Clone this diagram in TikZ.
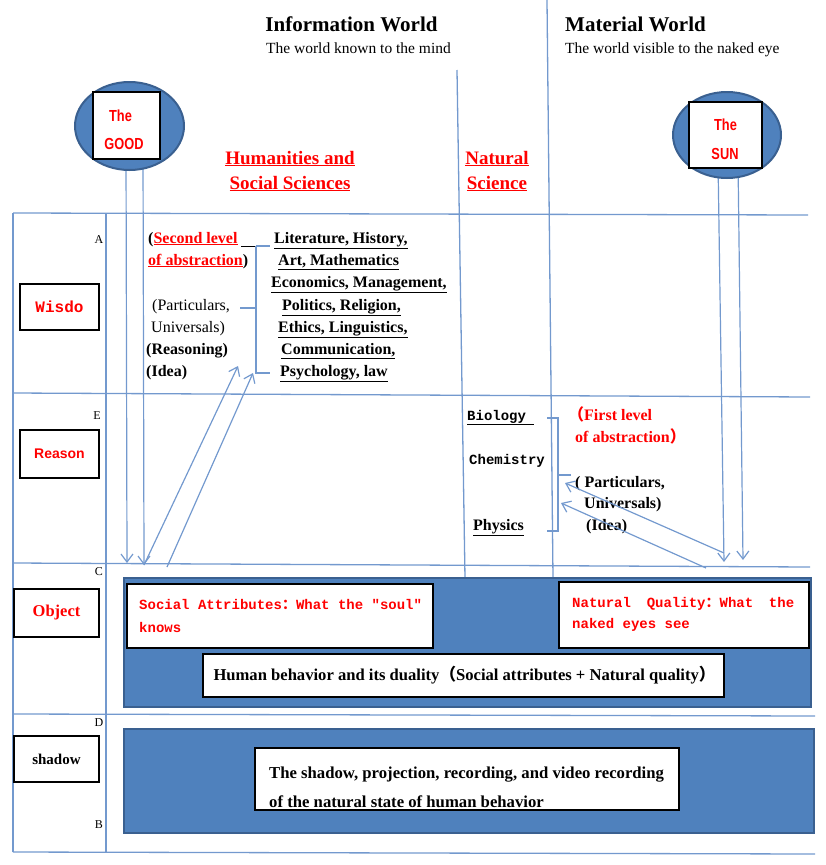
\documentclass[tikz,border=0pt]{standalone}
\usepackage{fontspec}
\setmainfont{Liberation Serif}
\newfontfamily\monof{Liberation Mono}
\newfontfamily\narrowf[FakeStretch=0.8]{Liberation Sans}
\newfontfamily\sansf{Liberation Sans}
\newfontfamily\cjkf{Noto Sans CJK SC}
\usetikzlibrary{arrows.meta,shapes.geometric}
\newcommand\fsz[2]{\fontsize{#1}{#2}\selectfont}
\definecolor{lineblue}{HTML}{7399CE}
\definecolor{panelblue}{HTML}{4F81BD}
\definecolor{paneledge}{HTML}{3A6090}
\definecolor{redt}{HTML}{FF0000}
\tikzset{
  grid/.style={draw=lineblue,line width=1.3pt},
  ray/.style={draw=lineblue,line width=1.2pt,-{Straight Barb[length=8pt,width=12pt,line width=1.2pt]}},
  panel/.style={draw=paneledge,line width=2.2pt,fill=panelblue,inner sep=0pt},
  wbox/.style={draw=black,line width=1.3pt,fill=white,inner sep=0pt},
  orb/.style={ellipse,draw=paneledge,line width=2pt,fill=panelblue,inner sep=0pt},
  lw/.style={inner sep=0pt,anchor=base west},
  tc/.style={inner sep=0pt,anchor=base},
  redlab/.style={text=redt},
  listf/.style={lw,font=\bfseries\fsz{16}{22}},
}
\begin{document}
\begin{tikzpicture}[x=1pt,y=-1pt]
\useasboundingbox (0,0) rectangle (826,865);

% ---- grid lines
\draw[grid] (13,213) -- (808,215);
\draw[grid] (13,393) -- (810,397);
\draw[grid] (13,563) -- (810,567);
\draw[grid] (13,714) -- (815,716);
\draw[grid] (13,852) -- (815,854);
\draw[grid] (13,213) -- (13,852);
\draw[grid] (106,213) -- (106,852);
\draw[grid] (457,70) -- (465,578);
\draw[grid] (547,0) -- (553,578);

% ---- headings
\node[tc,font=\bfseries\fsz{21}{25}] (infow) at (351.5,31) {Information World};
\node[tc,font=\fsz{15.5}{18}] (infos) at (358.5,53) {The world known to the mind};
\node[lw,font=\bfseries\fsz{21}{25}] (matw) at (565,31) {Material World};
\node[lw,font=\fsz{15.5}{18}] (mats) at (565,53) {The world visible to the naked eye};

\node[align=center,inner sep=0pt,font=\bfseries\fsz{19}{25},redlab] (hum) at (290,171)
  {\underline{Humanities and}\\\underline{Social Sciences}};
\node[align=center,inner sep=0pt,font=\bfseries\fsz{19}{25},redlab] (nat) at (497,171)
  {\underline{Natural}\\\underline{Science}};

% ---- rays
\coordinate (g1s) at (126,150); \coordinate (g1e) at (127,563);
\coordinate (g2s) at (143,150); \coordinate (g2e) at (144,565);
\coordinate (s1s) at (718,160); \coordinate (s1e) at (724,562);
\coordinate (s2s) at (738,160); \coordinate (s2e) at (743,560);
\draw[ray] (g1s) -- (g1e);
\draw[ray] (g2s) -- (g2e);
\draw[ray] (s1s) -- (s1e);
\draw[ray] (s2s) -- (s2e);

% ---- orbs
\node[orb,minimum width=109pt,minimum height=88pt] (goodorb) at (129.5,126) {};
\node[wbox,minimum width=67pt,minimum height=67pt] (goodbox) at (126.5,125.5) {};
\node[tc,font=\narrowf\bfseries\fsz{16}{18},redlab] (goodt1) at (120.5,121) {The};
\node[tc,font=\narrowf\bfseries\fsz{16}{18},redlab] (goodt2) at (124,149) {GOOD};

\node[orb,minimum width=108pt,minimum height=86pt] (sunorb) at (727,135) {};
\node[wbox,minimum width=73pt,minimum height=66pt] (sunbox) at (725.5,135) {};
\node[tc,font=\narrowf\bfseries\fsz{16}{18},redlab] (sunt1) at (725.5,130) {The};
\node[tc,font=\narrowf\bfseries\fsz{16}{18},redlab] (sunt2) at (725,159) {SUN};

% ---- row labels
\node[wbox,minimum width=79pt,minimum height=46pt,font=\monof\bfseries\fsz{16}{18},redlab] (wis) at (59.5,307) {Wisdo};
\node[wbox,minimum width=79pt,minimum height=48pt,font=\sansf\bfseries\fsz{14}{16},redlab] (rea) at (59.5,454) {Reason};
\node[wbox,minimum width=85pt,minimum height=48pt,font=\bfseries\fsz{16.5}{18},redlab] (obj) at (56.5,613) {Object};
\node[wbox,minimum width=85pt,minimum height=46pt,font=\bfseries\fsz{15}{18}] (sha) at (56.5,759) {shadow};

\node[tc,font=\fsz{12}{14}] (la) at (99,243) {A};
\node[tc,font=\fsz{12}{14}] (le) at (97,419) {E};
\node[tc,font=\fsz{12}{14}] (lc) at (99,575) {C};
\node[tc,font=\fsz{12}{14}] (ld) at (99,726) {D};
\node[tc,font=\fsz{12}{14}] (lb) at (99,828) {B};

% ---- humanities group
\node[lw,font=\bfseries\fsz{16}{22}] (sl1) at (148,243) {(\textcolor{redt}{\underline{Second level}}};
\node[lw,font=\bfseries\fsz{16}{22}] (sl2) at (148,265) {\textcolor{redt}{\underline{of abstraction}})};
\node[lw,font=\fsz{16}{22}] (hp1) at (152,310) {(Particulars,};
\node[lw,font=\fsz{16}{22}] (hp2) at (151,332) {Universals)};
\node[lw,font=\bfseries\fsz{16}{22}] (hp3) at (146,354) {(Reasoning)};
\node[lw,font=\bfseries\fsz{16}{22}] (hp4) at (146,376) {(Idea)};

\node[listf] (h1) at (274,243) {\underline{Literature, History,}};
\node[listf] (h2) at (278,265) {\underline{Art, Mathematics}};
\node[listf] (h3) at (271,287) {\underline{Economics, Management,}};
\node[listf] (h4) at (282,310) {\underline{Politics, Religion,}};
\node[listf] (h5) at (278,332) {\underline{Ethics, Linguistics,}};
\node[listf] (h6) at (281,354) {\underline{Communication,}};
\node[listf] (h7) at (280,376) {\underline{Psychology, law}};

\coordinate (hbt0) at (241,246);
\coordinate (hbt) at (256,246);
\coordinate (hbtr) at (270,246);
\coordinate (hbm) at (256,308);
\coordinate (hbml) at (240,308);
\coordinate (hbb) at (256,373);
\coordinate (hbbr) at (270,373);
\draw[line width=0.8pt] (hbt0) -- (hbt);
\draw[grid,line width=1.2pt] (hbt) -- (hbtr);
\draw[grid,line width=1.2pt] (hbt) -- (hbb) -- (hbbr);
\draw[grid,line width=1.2pt] (hbml) -- (hbm);

% reflected rays (humanities)
\coordinate (hr1) at (238,366);
\coordinate (hr2s) at (167,567);
\coordinate (hr2) at (253,373);
\draw[ray] (g2e) -- (hr1);
\draw[ray] (hr2s) -- (hr2);

% ---- natural science group
\node[lw,font=\monof\bfseries\fsz{14}{18}] (bio) at (467,420) {\underline{Biology\ }};
\node[lw,font=\monof\bfseries\fsz{14}{18}] (che) at (469,464) {Chemistry};
\node[lw,font=\bfseries\fsz{16}{18}] (phy) at (473,530) {\underline{Physics}};

\coordinate (nbt0) at (547,418); \coordinate (nbt) at (558,418);
\coordinate (nbb0) at (547,531); \coordinate (nbb) at (558,531);
\coordinate (nbm) at (558,475); \coordinate (nbmr) at (571,475);
\draw[grid,line width=1.2pt] (nbt0) -- (nbt) -- (nbb) -- (nbb0);
\draw[grid,line width=1.2pt] (nbm) -- (nbmr);

\node[lw,font=\bfseries\fsz{16}{18},redlab] (fl1) at (568,420) {{\cjkf （}First level};
\node[lw,font=\bfseries\fsz{16}{18},redlab] (fl2) at (575,442) {of abstraction{\cjkf ）}};
\node[lw,font=\bfseries\fsz{16}{18}] (np1) at (575,487) {( Particulars,};
\node[lw,font=\bfseries\fsz{16}{18}] (np2) at (584,508) {Universals)};
\node[lw,font=\bfseries\fsz{16}{18}] (np3) at (586,530) {(Idea)};

\coordinate (nr1s) at (724,553); \coordinate (nr1) at (565,483);
\coordinate (nr2s) at (706,568); \coordinate (nr2) at (561,503);
\draw[ray] (nr1s) -- (nr1);
\draw[ray] (nr2s) -- (nr2);

% ---- object panel
\node[panel,minimum width=687pt,minimum height=129pt] (objpanel) at (467.5,642.5) {};
\node[wbox,minimum width=306pt,minimum height=64pt] (socbox) at (280,616) {};
\node[inner sep=0pt,anchor=west,align=left,font=\monof\bfseries\fsz{14}{23},redlab] (soctxt) at (139,616)
  {Social Attributes{\cjkf ：}What the "soul"\\knows};
\node[wbox,minimum width=250pt,minimum height=66pt] (natbox) at (684,615) {};
\node[inner sep=0pt,anchor=west,align=left,font=\monof\bfseries\fsz{14}{21},redlab] (nattxt) at (572,614)
  {\makebox[222pt][s]{Natural Quality{\cjkf ：}What the}\\naked eyes see};
\node[wbox,minimum width=521pt,minimum height=43pt] (humbox) at (463.5,675.5) {};
\node[tc,font=\bfseries\fsz{16.6}{18}] (humtxt) at (464.5,680)
  {Human behavior and its duality{\cjkf （}Social attributes + Natural quality{\cjkf ）}};

% ---- shadow panel
\node[panel,minimum width=690pt,minimum height=104pt] (shapanel) at (469,781) {};
\node[wbox,minimum width=424pt,minimum height=62pt] (shabox) at (467,779) {};
\node[inner sep=0pt,anchor=west,align=left,font=\bfseries\fsz{16.7}{29}] (shatxt) at (269,787)
  {The shadow, projection, recording, and video recording\\of the natural state of human behavior};

\end{tikzpicture}
\end{document}
